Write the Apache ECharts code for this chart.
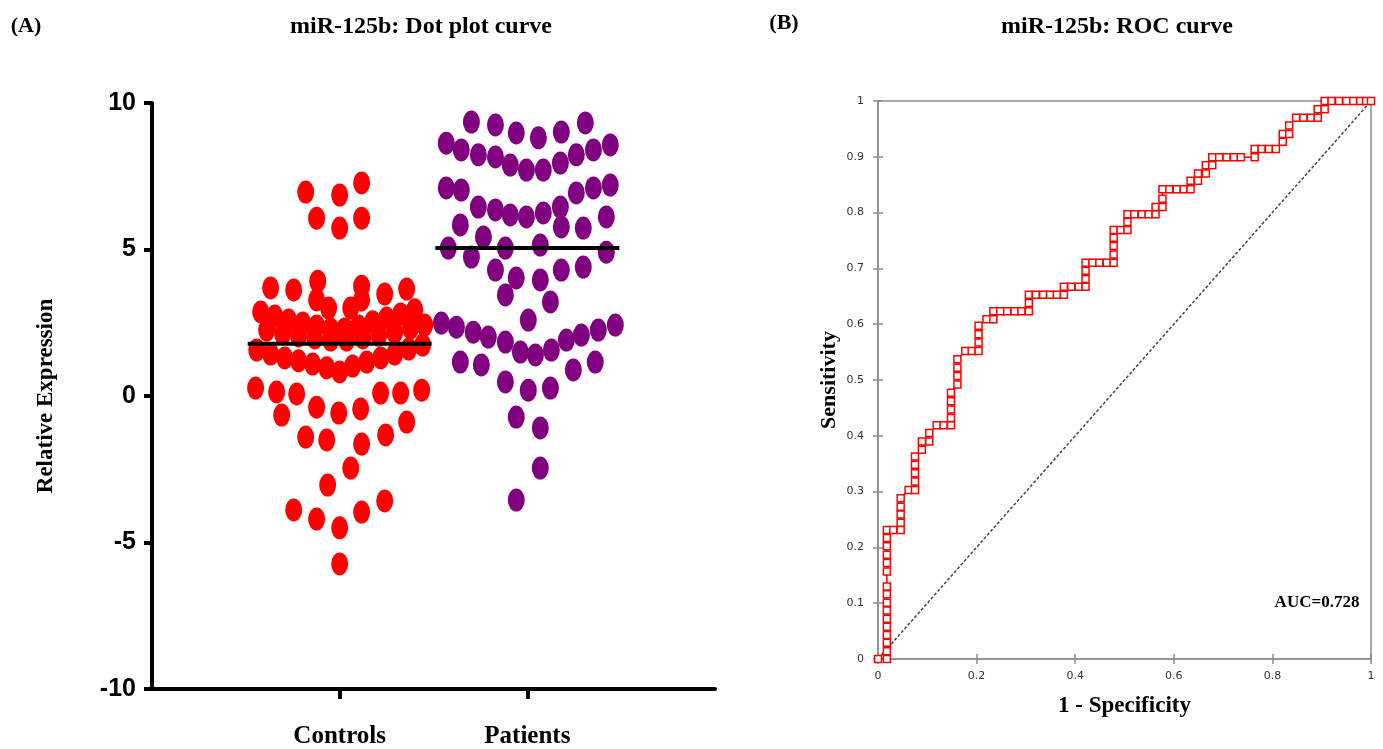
<!DOCTYPE html>
<html>
<head>
<meta charset="utf-8">
<title>miR-125b</title>
<script src="https://cdn.jsdelivr.net/npm/echarts@6.0.0/dist/echarts.min.js"></script>
<style>
html, body { margin: 0; padding: 0; background: #fff; }
#chart { width: 1383px; height: 749px; }
</style>
</head>
<body>
<div id="chart"></div>
<script>
// (A) dot plot
const categories = ['Controls', 'Patients'];
const controlsJitter = [
  -0.181, 0, 0.117, -0.123, 0, 0.117,
  -0.368, -0.245, -0.117, 0.117, 0.24, 0.357,
  -0.123, -0.059, 0.059, 0.117,
  -0.421, -0.346, -0.272, -0.197, -0.123, -0.048, 0.027, 0.101, 0.176, 0.25, 0.325, 0.4,
  -0.389, -0.304, -0.219, -0.133, -0.048, 0.037, 0.123, 0.208, 0.293, 0.378, 0.453,
  -0.442, -0.368, -0.293, -0.219, -0.144, -0.069, 0, 0.069, 0.144, 0.219, 0.293, 0.368, 0.442,
  -0.448, -0.336, -0.229, 0.218, 0.325, 0.437,
  -0.309, -0.123, -0.005, 0.112, 0.357,
  -0.181, -0.069, 0.117, 0.245,
  0.059, -0.064, -0.245, -0.123, 0, 0.117, 0.24, 0
];
const controlsValues = [
  6.96, 6.86, 7.27, 6.07, 5.73, 6.07,
  3.69, 3.62, 3.92, 3.75, 3.48, 3.65,
  3.28, 3.0, 3.0, 3.28,
  2.87, 2.73, 2.59, 2.49, 2.39, 2.29, 2.29, 2.39, 2.53, 2.66, 2.8, 2.94,
  2.25, 2.12, 2.05, 1.98, 1.91, 1.91, 1.98, 2.08, 2.18, 2.32, 2.42,
  1.57, 1.43, 1.3, 1.2, 1.09, 0.96, 0.82, 1.02, 1.16, 1.3, 1.43, 1.6, 1.74,
  0.27, 0.14, 0.07, 0.1, 0.1, 0.2,
  -0.65, -0.38, -0.58, -0.44, -0.89,
  -1.4, -1.5, -1.64, -1.33,
  -2.46, -3.04, -3.89, -4.2, -4.5, -3.96, -3.58, -5.73
];
const patientsJitter = [
  -0.298, -0.17, -0.059, 0.059, 0.181, 0.309,
  -0.432, -0.352, -0.261, -0.17, -0.091, -0.005, 0.085, 0.176, 0.261, 0.352, 0.442,
  -0.432, -0.352, -0.261, -0.17, -0.091, -0.005, 0.085, 0.176, 0.261, 0.352, 0.442,
  -0.357, -0.234, 0.181, 0.298, 0.421,
  -0.421, -0.298, -0.117, 0.069, 0.421,
  -0.17, -0.059, 0.069, 0.181, 0.298,
  -0.117, 0.123, 0.005,
  -0.458, -0.378, -0.288, -0.208, -0.117, -0.037, 0.043, 0.128, 0.208, 0.288, 0.378, 0.469,
  -0.357, -0.245, -0.117, 0.005, 0.123, 0.245, 0.362,
  -0.059, 0.069, 0.069, -0.059
];
const patientsValues = [
  9.35, 9.25, 8.98, 8.81, 9.01, 9.32,
  8.63, 8.4, 8.23, 8.16, 7.88, 7.71, 7.71, 7.95, 8.23, 8.4, 8.57,
  7.1, 7.03, 6.45, 6.35, 6.18, 6.11, 6.25, 6.45, 6.93, 7.1, 7.2,
  5.84, 5.43, 5.77, 5.73, 6.11,
  5.05, 4.74, 5.05, 5.15, 4.91,
  4.3, 4.03, 3.96, 4.3, 4.4,
  3.45, 3.21, 2.59,
  2.49, 2.35, 2.18, 2.01, 1.84, 1.5, 1.4, 1.57, 1.91, 2.08, 2.25, 2.42,
  1.16, 1.06, 0.48, 0.2, 0.27, 0.89, 1.16,
  -0.72, -1.09, -2.46, -3.55
];
const medians = [1.78, 5.05];

// (B) ROC curve
const rocFpr = [
  0, 0.018, 0.018, 0.018, 0.018, 0.018, 0.018, 0.018, 0.018, 0.018, 0.018,
  0.018, 0.018, 0.018, 0.018, 0.018, 0.018, 0.031, 0.046, 0.046, 0.046, 0.046, 0.046,
  0.062, 0.075, 0.075, 0.075, 0.075, 0.075, 0.089, 0.089, 0.104, 0.104,
  0.119, 0.133, 0.148, 0.148, 0.148, 0.148, 0.148,
  0.161, 0.161, 0.161, 0.161, 0.177, 0.19, 0.204, 0.204, 0.204, 0.204,
  0.22, 0.234, 0.234, 0.248, 0.262, 0.277, 0.291, 0.306, 0.306, 0.306,
  0.32, 0.335, 0.349, 0.363, 0.377, 0.377, 0.392, 0.407, 0.421, 0.421, 0.421, 0.421,
  0.435, 0.449, 0.464, 0.478, 0.478, 0.478, 0.478, 0.478, 0.492, 0.506, 0.506, 0.506,
  0.52, 0.535, 0.549, 0.563, 0.563, 0.577, 0.577, 0.577,
  0.591, 0.606, 0.62, 0.634, 0.634, 0.649, 0.649, 0.665, 0.665, 0.678, 0.678,
  0.692, 0.707, 0.722, 0.736, 0.764, 0.764, 0.778, 0.793, 0.807,
  0.821, 0.821, 0.834, 0.834, 0.848, 0.863, 0.878, 0.892, 0.892, 0.906, 0.906,
  0.92, 0.935, 0.95, 0.964, 0.978, 0.99, 1
];
const rocTpr = [
  0, 0, 0.014, 0.029, 0.043, 0.058, 0.072, 0.087, 0.101, 0.116, 0.13,
  0.157, 0.172, 0.187, 0.202, 0.217, 0.231, 0.231, 0.231, 0.244, 0.259, 0.273, 0.288,
  0.303, 0.303, 0.318, 0.333, 0.348, 0.363, 0.375, 0.39, 0.39, 0.405,
  0.419, 0.419, 0.419, 0.432, 0.447, 0.462, 0.477,
  0.492, 0.507, 0.522, 0.537, 0.552, 0.552, 0.552, 0.567, 0.582, 0.597,
  0.609, 0.609, 0.623, 0.623, 0.623, 0.623, 0.623, 0.623, 0.638, 0.653,
  0.653, 0.653, 0.653, 0.653, 0.653, 0.667, 0.667, 0.667, 0.667, 0.681, 0.696, 0.71,
  0.71, 0.71, 0.71, 0.71, 0.725, 0.74, 0.755, 0.769, 0.769, 0.769, 0.783, 0.797,
  0.797, 0.797, 0.797, 0.797, 0.81, 0.81, 0.825, 0.842,
  0.842, 0.842, 0.842, 0.842, 0.857, 0.857, 0.87, 0.87, 0.885, 0.885, 0.899,
  0.899, 0.899, 0.899, 0.899, 0.899, 0.914, 0.914, 0.914, 0.914,
  0.927, 0.941, 0.941, 0.956, 0.97, 0.97, 0.97, 0.97, 0.985, 0.985, 1,
  1, 1, 1, 1, 1, 1, 1
];
const auc = 0.728;

const serif = '"Liberation Serif", "Times New Roman", serif';
const sans = '"Liberation Sans", Arial, sans-serif';
const medianHalf = 0.49;

const controlsData = controlsJitter.map((d, i) => [1 + d, controlsValues[i]]);
const patientsData = patientsJitter.map((d, i) => [2 + d, patientsValues[i]]);
const rocData = rocFpr.map((x, i) => [x, rocTpr[i]]);

const chart = echarts.init(document.getElementById('chart'));
chart.setOption({
  animation: false,
  backgroundColor: '#fff',
  graphic: [
    { type: 'text', x: 26, y: 26, style: { text: '(A)', font: 'bold 22px ' + serif, fill: '#000', align: 'center', verticalAlign: 'middle' } },
    { type: 'text', x: 421, y: 27, style: { text: 'miR-125b: Dot plot curve', font: 'bold 24px ' + serif, fill: '#000', align: 'center', verticalAlign: 'middle' } },
    { type: 'text', x: 784, y: 23, style: { text: '(B)', font: 'bold 22px ' + serif, fill: '#000', align: 'center', verticalAlign: 'middle' } },
    { type: 'text', x: 1117, y: 27, style: { text: 'miR-125b: ROC curve', font: 'bold 24px ' + serif, fill: '#000', align: 'center', verticalAlign: 'middle' } },
    { type: 'text', x: 1317, y: 603, style: { text: 'AUC=' + auc, font: 'bold 17px ' + serif, fill: '#000', align: 'center', verticalAlign: 'middle' } }
  ],
  grid: [
    { left: 152, top: 103, width: 563, height: 586 },
    { left: 878, top: 101, width: 493, height: 558, show: true, borderColor: '#8c8c8c', borderWidth: 1.5 }
  ],
  xAxis: [
    { gridIndex: 0, type: 'value', min: 0, max: 3, show: false },
    {
      gridIndex: 0,
      type: 'category',
      position: 'bottom',
      data: [''].concat(categories, ['']),
      boundaryGap: false,
      axisLine: { lineStyle: { color: '#000', width: 4 } },
      axisTick: { interval: (i) => i === 1 || i === 2, length: 10, lineStyle: { color: '#000', width: 4 } },
      axisLabel: { interval: 0, margin: 35, color: '#000', fontFamily: serif, fontWeight: 'bold', fontSize: 25 }
    },
    {
      gridIndex: 1,
      type: 'value',
      min: 0,
      max: 1,
      interval: 0.2,
      axisLine: { lineStyle: { color: '#8c8c8c', width: 1.5 } },
      axisTick: { length: 5, lineStyle: { color: '#8c8c8c', width: 1.5 } },
      axisLabel: { margin: 12, color: '#333', fontFamily: '"DejaVu Sans", sans-serif', fontSize: 11 },
      splitLine: { show: false },
      name: '1 - Specificity',
      nameLocation: 'middle',
      nameGap: 36,
      nameTextStyle: { color: '#000', fontFamily: serif, fontWeight: 'bold', fontSize: 23 }
    },
    {
      gridIndex: 1,
      type: 'value',
      position: 'bottom',
      min: 0,
      max: 1,
      interval: 0.2,
      axisLine: { show: false },
      axisTick: { inside: true, length: 5, lineStyle: { color: '#8c8c8c', width: 1.5 } },
      axisLabel: { show: false },
      splitLine: { show: false }
    }
  ],
  yAxis: [
    {
      gridIndex: 0,
      type: 'value',
      min: -10,
      max: 10,
      interval: 5,
      axisLine: { show: true, lineStyle: { color: '#000', width: 4 } },
      axisTick: { show: true, length: 8, lineStyle: { color: '#000', width: 4 } },
      axisLabel: { margin: 16, color: '#000', fontFamily: sans, fontWeight: 'bold', fontSize: 25 },
      splitLine: { show: false },
      name: 'Relative Expression',
      nameLocation: 'middle',
      nameRotate: 90,
      nameGap: 94,
      nameTextStyle: { color: '#000', fontFamily: serif, fontWeight: 'bold', fontSize: 23 }
    },
    {
      gridIndex: 1,
      type: 'value',
      min: 0,
      max: 1,
      interval: 0.1,
      axisLine: { show: true, lineStyle: { color: '#8c8c8c', width: 1.5 } },
      axisTick: { show: true, length: 5, lineStyle: { color: '#8c8c8c', width: 1.5 } },
      axisLabel: { margin: 14, color: '#333', fontFamily: '"DejaVu Sans", sans-serif', fontSize: 11 },
      splitLine: { show: false },
      name: 'Sensitivity',
      nameLocation: 'middle',
      nameRotate: 90,
      nameGap: 38,
      nameTextStyle: { color: '#000', fontFamily: serif, fontWeight: 'bold', fontSize: 22 }
    },
    {
      gridIndex: 1,
      type: 'value',
      position: 'left',
      min: 0,
      max: 1,
      interval: 0.1,
      axisLine: { show: false },
      axisTick: { show: true, inside: true, length: 5, lineStyle: { color: '#8c8c8c', width: 1.5 } },
      axisLabel: { show: false },
      splitLine: { show: false }
    }
  ],
  series: [
    {
      name: categories[0],
      type: 'scatter',
      xAxisIndex: 0,
      yAxisIndex: 0,
      symbol: 'circle',
      symbolSize: [17, 23],
      itemStyle: { color: '#ff0000', opacity: 1 },
      data: controlsData
    },
    {
      name: categories[1],
      type: 'scatter',
      xAxisIndex: 0,
      yAxisIndex: 0,
      symbol: 'circle',
      symbolSize: [17, 23],
      itemStyle: { color: '#800080', opacity: 1 },
      data: patientsData
    },
    {
      type: 'line',
      xAxisIndex: 0,
      yAxisIndex: 0,
      symbol: 'none',
      lineStyle: { color: '#000', width: 4 },
      data: [[1 - medianHalf, medians[0]], [1 + medianHalf, medians[0]]]
    },
    {
      type: 'line',
      xAxisIndex: 0,
      yAxisIndex: 0,
      symbol: 'none',
      lineStyle: { color: '#000', width: 4 },
      data: [[2 - medianHalf, medians[1]], [2 + medianHalf, medians[1]]]
    },
    {
      type: 'line',
      xAxisIndex: 2,
      yAxisIndex: 1,
      symbol: 'none',
      lineStyle: { color: '#444', width: 1.5, type: [3, 2] },
      data: [[0, 0], [1, 1]]
    },
    {
      type: 'line',
      xAxisIndex: 2,
      yAxisIndex: 1,
      symbol: 'rect',
      symbolSize: 7,
      showAllSymbol: true,
      lineStyle: { color: '#ff0000', width: 1.5 },
      itemStyle: { color: '#fff', borderColor: '#ff0000', borderWidth: 1.5 },
      data: rocData
    }
  ]
});
</script>
</body>
</html>
